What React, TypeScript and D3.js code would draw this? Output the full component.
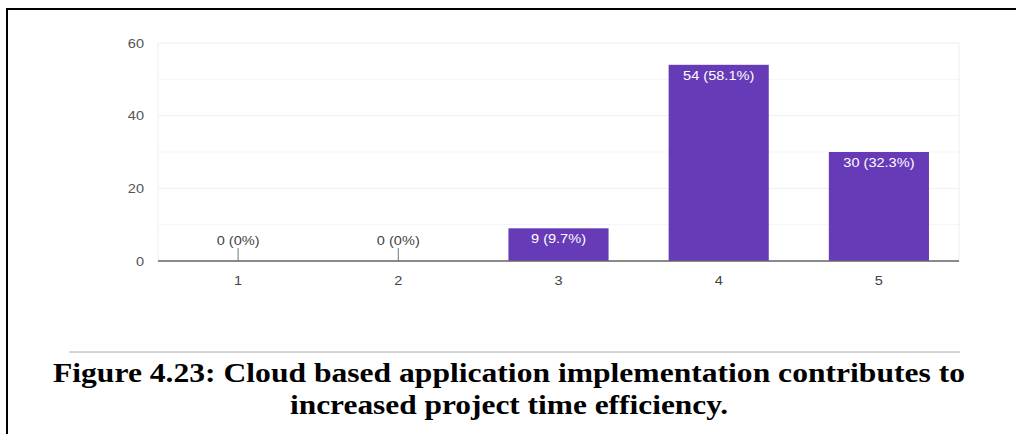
import React from "react";
import * as d3 from "d3";

const categories = ["1", "2", "3", "4", "5"];
const counts = [0, 0, 9, 54, 30];
const percents = ["0%", "0%", "9.7%", "58.1%", "32.3%"];
const yTicks = [0, 20, 40, 60];
const yMinorTicks = [10, 30, 50];
const captionLines = [
  "Figure 4.23: Cloud based application implementation contributes to",
  "increased project time efficiency.",
];

const W = 1016;
const H = 434;
const plot = { left: 158, right: 959, top: 43, bottom: 261 };
const SX = 1.12;

export default function App() {
  const x = d3
    .scaleBand<string>()
    .domain(categories)
    .range([plot.left, plot.right])
    .paddingInner(0.375)
    .paddingOuter(0.1875);
  const y = d3.scaleLinear().domain([0, 60]).range([plot.bottom, plot.top]);
  const font = "'Liberation Sans', Arial, sans-serif";
  const serif = "'Liberation Serif', 'Times New Roman', Times, serif";

  const T = (props: { x: number; y: number; anchor: string; fill: string; children: React.ReactNode; dy?: string }) => (
    <text
      transform={`translate(${props.x},${props.y}) scale(${SX},1)`}
      dy={props.dy}
      textAnchor={props.anchor}
      fontFamily={font}
      fontSize={13}
      fill={props.fill}
    >
      {props.children}
    </text>
  );

  return (
    <svg
      width={W}
      height={H}
      style={{ position: "absolute", left: 0, top: 0, background: "#fff" }}
    >
      {/* frame */}
      <line x1={7} y1={9} x2={W} y2={9} stroke="#000" strokeWidth={2} />
      <line x1={7} y1={8} x2={7} y2={H} stroke="#000" strokeWidth={2} />

      {/* gridlines */}
      {yMinorTicks.map((t) => (
        <line key={"m" + t} x1={plot.left} x2={plot.right} y1={y(t)} y2={y(t)} stroke="#f5f5f5" strokeWidth={1} />
      ))}
      {yTicks.map((t) => (
        <line key={"g" + t} x1={plot.left} x2={plot.right} y1={y(t)} y2={y(t)} stroke="#eeeeee" strokeWidth={1} />
      ))}
      <line x1={plot.left} x2={plot.left} y1={plot.top} y2={plot.bottom} stroke="#eeeeee" />
      <line x1={plot.right} x2={plot.right} y1={plot.top} y2={plot.bottom} stroke="#eeeeee" />

      {/* y labels */}
      {yTicks.map((t) => (
        <T key={"yl" + t} x={144} y={y(t)} dy="0.35em" anchor="end" fill="#555">
          {t}
        </T>
      ))}

      {/* bars */}
      {categories.map((c, i) => {
        const v = counts[i];
        const bx = x(c)!;
        const bw = x.bandwidth();
        const cx = bx + bw / 2;
        const label = `${v} (${percents[i]})`;
        if (v === 0) {
          return (
            <g key={c}>
              <line x1={cx} x2={cx} y1={plot.bottom} y2={plot.bottom - 13} stroke="#777" strokeWidth={1} />
              <T x={cx} y={plot.bottom - 16} anchor="middle" fill="#444">
                {label}
              </T>
            </g>
          );
        }
        return (
          <g key={c}>
            <rect x={bx} y={y(v)} width={bw} height={plot.bottom - y(v)} fill="#673ab7" />
            <T x={cx} y={y(v) + 15} anchor="middle" fill="#fff">
              {label}
            </T>
          </g>
        );
      })}

      {/* baseline */}
      <line x1={plot.left} x2={plot.right} y1={plot.bottom} y2={plot.bottom} stroke="#666" strokeWidth={1.5} />

      {/* x labels */}
      {categories.map((c) => (
        <T key={"xl" + c} x={x(c)! + x.bandwidth() / 2} y={285} anchor="middle" fill="#444">
          {c}
        </T>
      ))}

      {/* caption */}
      <line x1={69} x2={960} y1={352} y2={352} stroke="#aaa" strokeWidth={1} />
      <text x={509} y={382} textAnchor="middle" fontFamily={serif} fontWeight="bold" fontSize={28} fill="#000" textLength={912} lengthAdjust="spacingAndGlyphs">
        {captionLines[0]}
      </text>
      <text x={509} y={414} textAnchor="middle" fontFamily={serif} fontWeight="bold" fontSize={28} fill="#000" textLength={438} lengthAdjust="spacingAndGlyphs">
        {captionLines[1]}
      </text>
    </svg>
  );
}
